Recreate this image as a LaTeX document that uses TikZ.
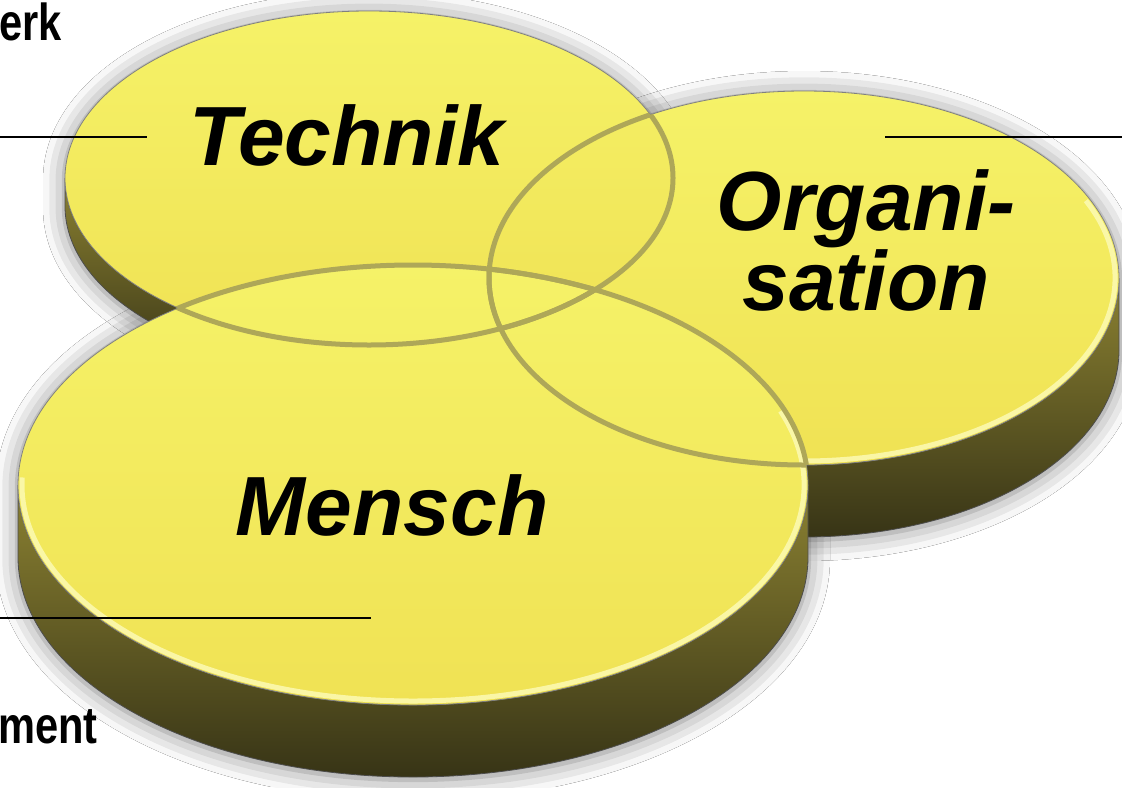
\documentclass[tikz,border=0pt]{standalone}
\usepackage{fontspec}
\setmainfont{Liberation Sans}
\usetikzlibrary{shadows.blur}
\definecolor{facelight}{RGB}{245,242,104}
\definecolor{facedark}{RGB}{240,226,84}
\definecolor{sidetop}{RGB}{140,130,50}
\definecolor{sidebot}{RGB}{55,52,22}
\definecolor{ring}{RGB}{174,167,88}
\definecolor{rim}{RGB}{252,250,180}

\begin{document}
\begin{tikzpicture}[x=0.5pt,y=-0.5pt,
  discside/.style={top color=sidetop,bottom color=sidebot,draw=black!70,line width=0.4pt},
  discface/.style={top color=facelight,bottom color=facedark,draw=black!50,line width=0.4pt},
  discrim/.style={draw=rim,line width=2.5pt,opacity=0.85},
  discring/.style={draw=ring,line width=2.5pt},
  halo/.style={fill=white,blur shadow={shadow xshift=0pt,shadow yshift=-1pt,shadow blur radius=11pt,shadow opacity=50}},
  lbl/.style={font=\fontsize{42}{40}\selectfont\bfseries\itshape,inner sep=0pt,align=center},
  tag/.style={font=\fontsize{26}{28}\selectfont\bfseries,inner sep=0pt},
  guide/.style={line width=1.4pt}]
\useasboundingbox (0,0) rectangle (1122,787);
\fill[white] (0,0) rectangle (1122,787);

% Schatten
\path[halo] (489,278) arc[start angle=180,end angle=360,x radius=315,y radius=187] -- (1119,350) arc[start angle=0,end angle=180,x radius=315,y radius=187] -- cycle;
\path[halo] (65,178) arc[start angle=180,end angle=360,x radius=304,y radius=167] -- (673,206) arc[start angle=0,end angle=180,x radius=304,y radius=167] -- cycle;
\path[halo] (18,485) arc[start angle=180,end angle=360,x radius=395,y radius=220] -- (808,557) arc[start angle=0,end angle=180,x radius=395,y radius=220] -- cycle;

% Seitenflaechen
\path[discside] (489,278) -- (489,350) arc[start angle=180,end angle=0,x radius=315,y radius=187] -- (1119,278) arc[start angle=0,end angle=180,x radius=315,y radius=187] -- cycle;
\path[discside] (65,178) -- (65,206) arc[start angle=180,end angle=0,x radius=304,y radius=167] -- (673,178) arc[start angle=0,end angle=180,x radius=304,y radius=167] -- cycle;
\path[discside] (18,485) -- (18,557) arc[start angle=180,end angle=0,x radius=395,y radius=220] -- (808,485) arc[start angle=0,end angle=180,x radius=395,y radius=220] -- cycle;

% Deckflaechen
\path[discface] (804,278) ellipse[x radius=315,y radius=187];
\draw[discrim] (804,278) ++(-25:311 and 183) arc[start angle=-25,end angle=100,x radius=311,y radius=183];
\path[discface] (369,178) ellipse[x radius=304,y radius=167];
\path[discface] (413,485) ellipse[x radius=395,y radius=220];
\draw[discrim] (413,485) ++(-20:391 and 216) arc[start angle=-20,end angle=182,x radius=391,y radius=216];

% Ringe
\begin{scope}
\clip (804,278) ellipse[x radius=315,y radius=187];
\draw[discring] (369,178) ellipse[x radius=304,y radius=167];
\draw[discring] (413,485) ellipse[x radius=395,y radius=220];
\end{scope}
\begin{scope}
\clip (369,178) ellipse[x radius=304,y radius=167];
\draw[discring] (804,278) ellipse[x radius=315,y radius=187];
\draw[discring] (413,485) ellipse[x radius=395,y radius=220];
\end{scope}
\begin{scope}
\clip (413,485) ellipse[x radius=395,y radius=220];
\draw[discring] (369,178) ellipse[x radius=304,y radius=167];
\draw[discring] (804,278) ellipse[x radius=315,y radius=187];
\end{scope}

% Beschriftung
\node[lbl,anchor=base] (technik) at (347,165) {Technik};
\node[lbl] (orga) at (866,240) {Organi-\\sation};
\node[lbl,anchor=base] (mensch) at (392,535) {Mensch};
\node[tag,anchor=base east] (netz) at (62,40) {\scalebox{0.8}[1]{erk}};
\node[tag,anchor=base east] (mgmt) at (98,743) {\scalebox{0.8}[1]{ment}};

\coordinate (t1) at (0,137);
\coordinate (t2) at (147,137);
\coordinate (o1) at (885,137);
\coordinate (o2) at (1122,137);
\coordinate (m1) at (0,618);
\coordinate (m2) at (371,618);
\draw[guide] (t1) -- (t2);
\draw[guide] (o1) -- (o2);
\draw[guide] (m1) -- (m2);
\end{tikzpicture}
\end{document}
